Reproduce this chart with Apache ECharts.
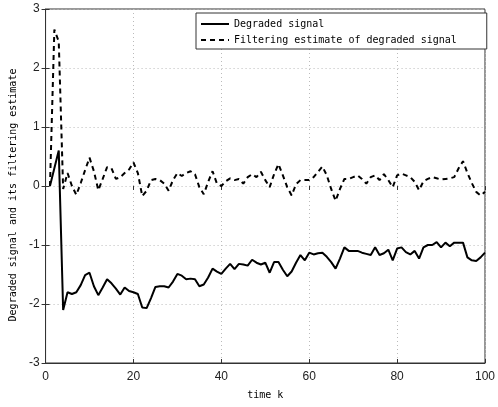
<!DOCTYPE html>
<html>
<head>
<meta charset="utf-8">
<script src="https://cdn.jsdelivr.net/npm/echarts@6/dist/echarts.min.js"></script>
<style>
    html, body {margin: 0; padding: 0; background: #fff;}
    #chart {width: 498px; height: 407px;}
</style>
</head>
<body>
<div id="chart"></div>
<script>
const timeK = [
    1, 2, 3, 4, 5, 6, 7, 8, 9, 10, 11, 12, 13, 14, 15, 16, 17, 18, 19, 20,
    21, 22, 23, 24, 25, 26, 27, 28, 29, 30, 31, 32, 33, 34, 35, 36, 37, 38, 39, 40,
    41, 42, 43, 44, 45, 46, 47, 48, 49, 50, 51, 52, 53, 54, 55, 56, 57, 58, 59, 60,
    61, 62, 63, 64, 65, 66, 67, 68, 69, 70, 71, 72, 73, 74, 75, 76, 77, 78, 79, 80,
    81, 82, 83, 84, 85, 86, 87, 88, 89, 90, 91, 92, 93, 94, 95, 96, 97, 98, 99, 100
];

const degradedSignal = [
    0, 0.3, 0.6, -2.1, -1.8, -1.83, -1.8, -1.68, -1.51, -1.47,
    -1.7, -1.85, -1.72, -1.58, -1.65, -1.74, -1.84, -1.72, -1.78, -1.8,
    -1.83, -2.06, -2.07, -1.9, -1.71, -1.7, -1.7, -1.72, -1.62, -1.49,
    -1.52, -1.58, -1.57, -1.58, -1.7, -1.67, -1.55, -1.4, -1.45, -1.49,
    -1.4, -1.32, -1.41, -1.32, -1.33, -1.35, -1.25, -1.3, -1.33, -1.3,
    -1.47, -1.29, -1.29, -1.42, -1.53, -1.45, -1.3, -1.17, -1.26, -1.13,
    -1.16, -1.14, -1.13, -1.2, -1.29, -1.4, -1.23, -1.04, -1.1, -1.1,
    -1.1, -1.13, -1.15, -1.17, -1.04, -1.17, -1.14, -1.08, -1.26, -1.06,
    -1.04, -1.12, -1.16, -1.1, -1.23, -1.04, -1.0, -1.0, -0.95, -1.04,
    -0.96, -1.02, -0.96, -0.96, -0.96, -1.21, -1.26, -1.27, -1.21, -1.13
];

const filteringEstimate = [
    0, 2.65, 2.45, -0.05, 0.22, 0.0, -0.15, 0.05, 0.27, 0.48,
    0.25, -0.07, 0.12, 0.32, 0.3, 0.12, 0.15, 0.22, 0.28, 0.4,
    0.22, -0.17, -0.08, 0.1, 0.12, 0.1, 0.04, -0.08, 0.1, 0.22,
    0.17, 0.22, 0.25, 0.2, -0.02, -0.14, 0.07, 0.25, 0.04, 0.0,
    0.08, 0.13, 0.1, 0.12, 0.04, 0.15, 0.2, 0.15, 0.24, 0.1,
    -0.02, 0.2, 0.37, 0.18, -0.02, -0.16, 0.03, 0.1, 0.1, 0.1,
    0.15, 0.24, 0.33, 0.18, -0.05, -0.25, -0.05, 0.12, 0.12, 0.15,
    0.18, 0.12, 0.04, 0.15, 0.18, 0.1, 0.2, 0.1, -0.02, 0.18,
    0.21, 0.18, 0.15, 0.07, -0.07, 0.08, 0.12, 0.15, 0.13, 0.11,
    0.12, 0.13, 0.15, 0.3, 0.42, 0.22, 0.05, -0.1, -0.16, -0.1
];

const seriesNames = ['Degraded signal', 'Filtering estimate of degraded signal'];

const monoFont = 'DejaVu Sans Mono';
const tickFont = 'Liberation Sans';

const pairs = (ys) => ys.map((v, i) => [timeK[i], v]);

const chart = echarts.init(document.getElementById('chart'), null, {renderer: 'canvas'});

const hiddenAxisBits = {
    axisLine: {show: false},
    axisLabel: {show: false},
    splitLine: {show: false},
    axisTick: {show: true, inside: true, length: 4, lineStyle: {color: '#333'}}
};

chart.setOption({
    animation: false,
    backgroundColor: '#fff',
    grid: {
        left: 43, right: 5, top: 9, bottom: 44,
        show: true, borderColor: '#333', borderWidth: 1, backgroundColor: 'transparent'
    },
    legend: {
        orient: 'vertical',
        left: 196, top: 13,
        padding: [6, 30, 4, 4],
        itemGap: 6,
        itemWidth: 28,
        itemHeight: 12,
        borderColor: '#333',
        borderWidth: 1,
        borderRadius: 0,
        backgroundColor: '#fff',
        itemStyle: {opacity: 0},
        textStyle: {fontFamily: monoFont, fontSize: 10, color: '#000'},
        data: seriesNames
    },
    xAxis: [{
        type: 'value',
        min: 0, max: 100, interval: 20,
        name: 'time k',
        nameLocation: 'middle',
        nameGap: 27,
        nameTextStyle: {fontFamily: monoFont, fontSize: 10, color: '#000'},
        axisLine: {show: true, onZero: false, lineStyle: {color: '#333'}},
        axisTick: {inside: true, length: 4, lineStyle: {color: '#333'}},
        axisLabel: {fontFamily: tickFont, fontSize: 12, color: '#222', margin: 8},
        splitLine: {show: true, lineStyle: {color: '#bbb', type: [1, 3]}}
    }, {
        type: 'value', position: 'top',
        min: 0, max: 100, interval: 20,
        ...hiddenAxisBits
    }],
    yAxis: [{
        type: 'value',
        min: -3, max: 3, interval: 1,
        name: 'Degraded signal and its filtering estimate',
        nameLocation: 'middle',
        nameGap: 24,
        nameTextStyle: {fontFamily: monoFont, fontSize: 10, color: '#000', padding: [0, 18, 0, 0]},
        axisLine: {show: true, onZero: false, lineStyle: {color: '#333'}},
        axisTick: {inside: true, length: 4, lineStyle: {color: '#333'}},
        axisLabel: {fontFamily: tickFont, fontSize: 12, color: '#222', margin: 6},
        splitLine: {show: true, lineStyle: {color: '#bbb', type: [1, 3]}}
    }, {
        type: 'value', position: 'right',
        min: -3, max: 3, interval: 1,
        ...hiddenAxisBits
    }],
    series: [{
        name: seriesNames[0],
        type: 'line',
        data: pairs(degradedSignal),
        symbol: 'none',
        lineStyle: {color: '#000', width: 2},
        itemStyle: {color: '#000'},
        z: 3
    }, {
        name: seriesNames[1],
        type: 'line',
        data: pairs(filteringEstimate),
        symbol: 'none',
        lineStyle: {color: '#000', width: 2, type: [5, 4]},
        itemStyle: {color: '#000'},
        z: 2
    }]
});
</script>
</body>
</html>
